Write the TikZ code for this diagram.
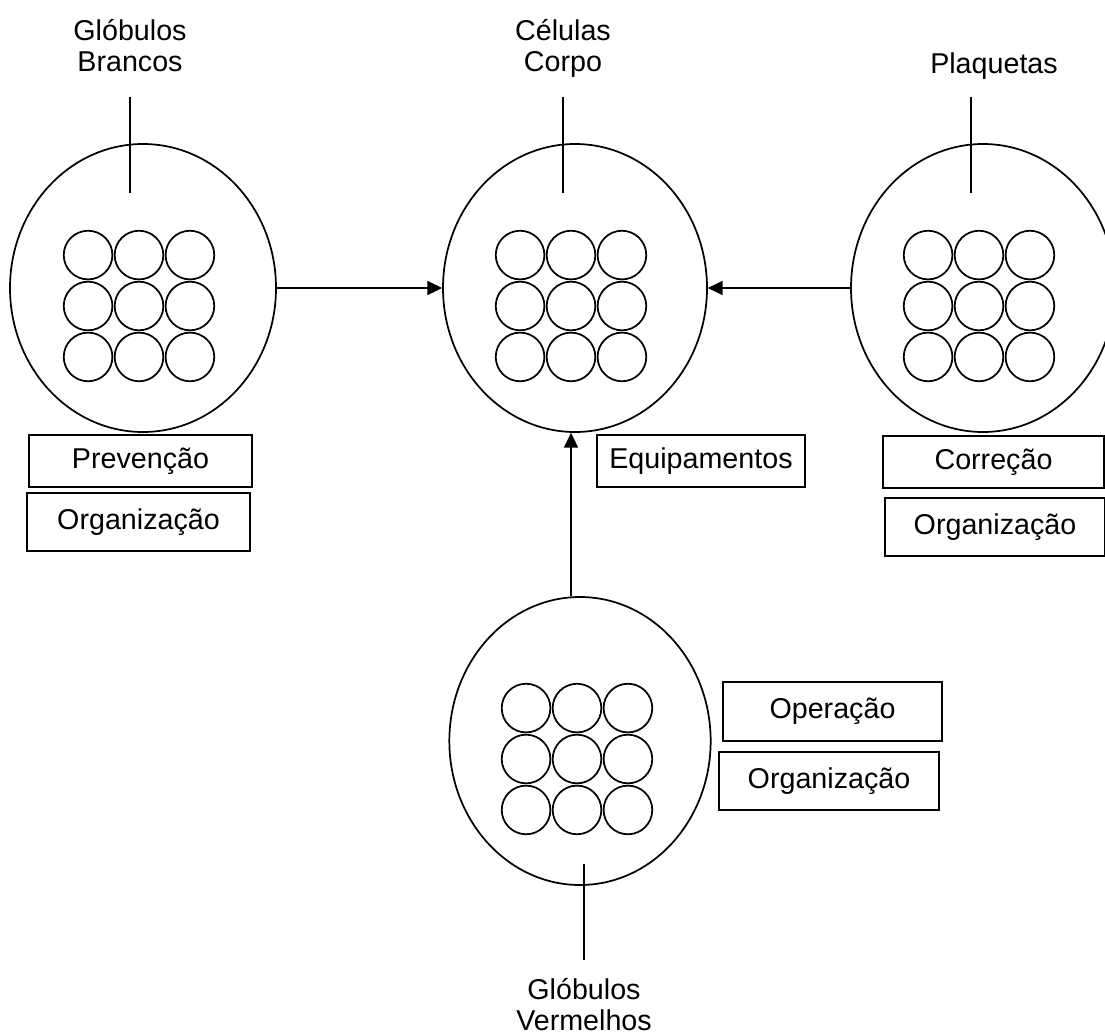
\documentclass[tikz,border=0pt]{standalone}
\usepackage{fontspec}
\setmainfont{Liberation Sans}
\usetikzlibrary{matrix, shapes.geometric, arrows.meta}

\tikzset{
  globo/.style={ellipse, draw, line width=1.3pt, minimum width=198pt, minimum height=216pt, inner sep=0pt},
  celula/.style={circle, draw, line width=1.3pt, minimum size=36.5pt, inner sep=0pt},
  grade/.style={matrix of nodes, nodes in empty cells, nodes={celula}, column sep=0.4pt, row sep=0.4pt},
  caixa/.style={rectangle, draw, line width=1.5pt, minimum height=39pt, inner sep=0pt},
  rotulo/.style={align=center, inner sep=0pt, anchor=north},
  traco/.style={line width=1.3pt},
  seta/.style={-{Triangle[length=11pt,width=10.5pt]}, line width=1.3pt},
}

\begin{document}
\begin{tikzpicture}[x=0.75pt, y=-0.75pt, font=\fontsize{21.5}{23.25}\selectfont]
  \clip (0,0) rectangle (1105,1035);

  \node[globo, minimum width=199.5pt] (brancos) at (143,288) {};
  \node[globo] (corpo) at (575,288) {};
  \node[globo] (plaquetas) at (983,288) {};
  \node[globo, minimum width=196pt] (vermelhos) at (580,741) {};

  \matrix (gB) at (139,306) [grade] { & & \\ & & \\ & & \\ };
  \matrix (gC) at (571,306) [grade] { & & \\ & & \\ & & \\ };
  \matrix (gP) at (979,306) [grade] { & & \\ & & \\ & & \\ };
  \matrix (gV) at (577,759) [grade] { & & \\ & & \\ & & \\ };

  \node[rotulo] (lblBrancos) at (130,19) {Glóbulos\\Brancos};
  \node[rotulo] (lblCorpo) at (563,19) {Células\\Corpo};
  \node[rotulo] (lblPlaquetas) at (994,52) {Plaquetas};
  \node[rotulo] (lblVermelhos) at (584,978) {Glóbulos\\Vermelhos};

  \coordinate (tBa) at (130,97);  \coordinate (tBb) at (130,193);
  \coordinate (tCa) at (563,97);  \coordinate (tCb) at (563,193);
  \coordinate (tPa) at (971,97);  \coordinate (tPb) at (971,193);
  \coordinate (tVa) at (584,864); \coordinate (tVb) at (584,960);
  \draw[traco] (tBa) -- (tBb);
  \draw[traco] (tCa) -- (tCb);
  \draw[traco] (tPa) -- (tPb);
  \draw[traco] (tVa) -- (tVb);

  \draw[seta] (brancos.east) -- (corpo.west);
  \draw[seta] (plaquetas.west) -- (corpo.east);
  \draw[seta] (gC-2-2 |- vermelhos.north) -- (gC-2-2 |- corpo.south);

  \node[caixa, minimum width=167.25pt] (prevencao) at (140.5,461) {Prevenção};
  \node[caixa, minimum width=167.25pt, minimum height=43.5pt] (orgBrancos) at (138.5,522) {Organização};
  \node[caixa, minimum width=156pt] (equip) at (701,461) {Equipamentos};
  \node[caixa, minimum width=165.75pt] (correcao) at (993.5,462) {Correção};
  \node[caixa, minimum width=165pt, minimum height=43.5pt] (orgPlaq) at (995,527) {Organização};
  \node[caixa, minimum width=164.25pt, minimum height=44.25pt] (operacao) at (832.5,711.5) {Operação};
  \node[caixa, minimum width=165pt, minimum height=43.5pt] (orgVerm) at (829,781) {Organização};
\end{tikzpicture}
\end{document}
